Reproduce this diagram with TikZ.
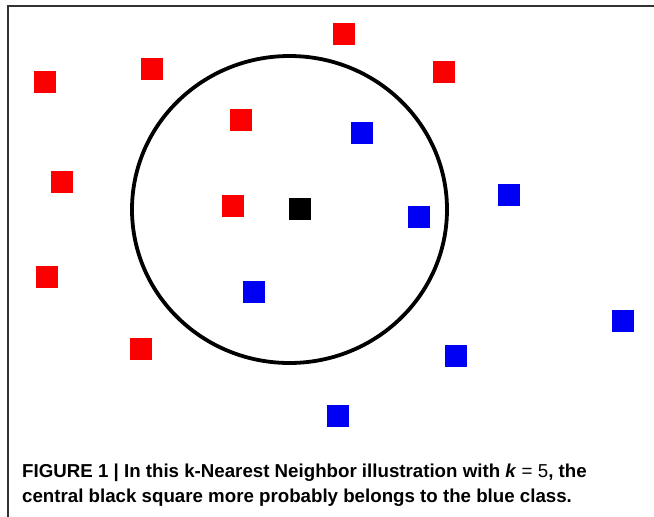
\documentclass[tikz,border=0pt]{standalone}
\usepackage{fontspec}
\setmainfont{Liberation Sans}
\definecolor{ptred}{RGB}{250,0,0}
\definecolor{ptblue}{RGB}{0,0,245}
\definecolor{framegray}{RGB}{50,50,50}
\begin{document}
\begin{tikzpicture}[x=1pt,y=-1pt,
  pt/.style={rectangle,inner sep=0pt,minimum size=22pt,draw=none},
  redpt/.style={pt,fill=ptred},
  bluept/.style={pt,fill=ptblue},
  querypt/.style={pt,fill=black},
  caption/.style={anchor=base west,inner sep=0pt,font=\fontsize{18.7}{22}\selectfont\bfseries}]
\useasboundingbox (0,0) rectangle (654,517);
\fill[white] (0,0) rectangle (654,517);
% frame
\coordinate (f1) at (8,517);
\coordinate (f2) at (8,6);
\coordinate (f3) at (654,6);
\draw[framegray,line width=1.4pt] (f1) -- (f2) -- (f3);
% neighbourhood circle
\draw[line width=3.8pt] (289.5,209.5) ellipse [x radius=157.5, y radius=153.5];
% red class
\node[redpt] (r1) at (45,82) {};
\node[redpt] (r2) at (152,69) {};
\node[redpt] (r3) at (344,34) {};
\node[redpt] (r4) at (444,72) {};
\node[redpt] (r5) at (241,120) {};
\node[redpt] (r6) at (62,182) {};
\node[redpt] (r7) at (233,206) {};
\node[redpt] (r8) at (47,277) {};
\node[redpt] (r9) at (141,349) {};
% blue class
\node[bluept] (b1) at (362,133) {};
\node[bluept] (b2) at (509,195) {};
\node[bluept] (b3) at (419,217) {};
\node[bluept] (b4) at (254,292) {};
\node[bluept] (b5) at (623,321) {};
\node[bluept] (b6) at (456,356) {};
\node[bluept] (b7) at (338,416) {};
% query point
\node[querypt] (q) at (299.5,208.5) {};
% caption
\node[caption] (cap1) at (22,477) {FIGURE 1 | In this k-Nearest Neighbor illustration with \textit{k} {\mdseries =} {\mdseries 5}, the};
\node[caption] (cap2) at (22,502) {central black square more probably belongs to the blue class.};
\end{tikzpicture}
\end{document}
